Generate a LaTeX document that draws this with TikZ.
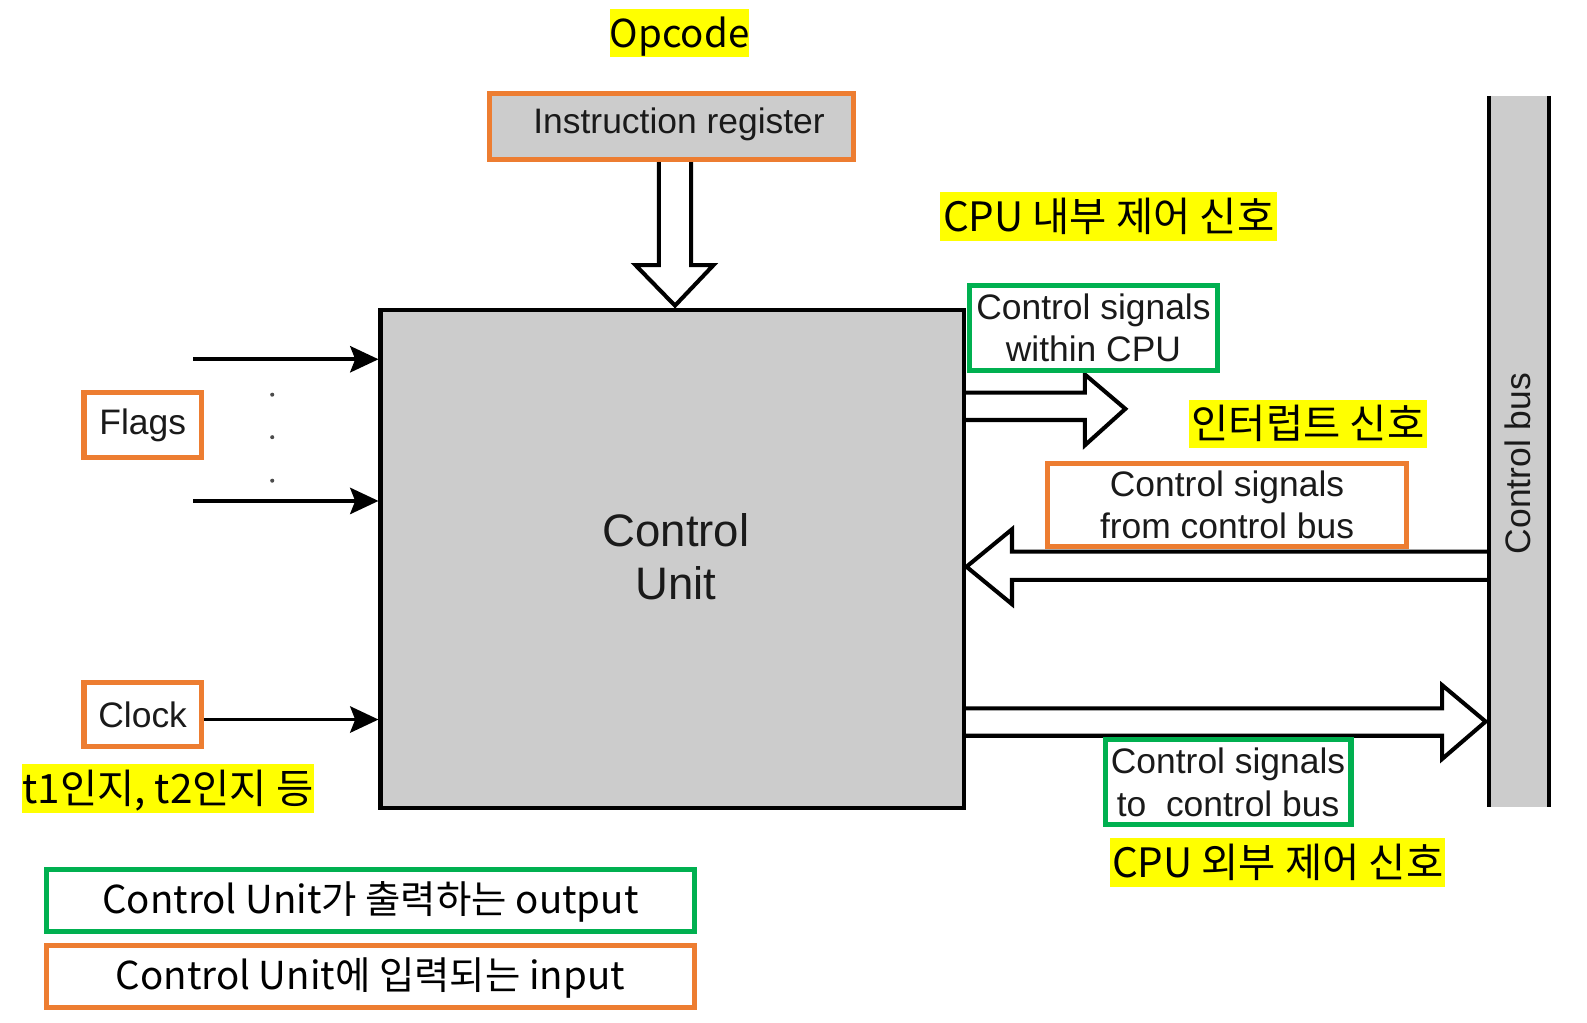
\documentclass[tikz,border=0pt]{standalone}
\usepackage{fontspec}
\setmainfont{Liberation Sans}
\newfontfamily\kr{Noto Sans CJK KR}
\usetikzlibrary{arrows.meta}
\definecolor{og}{HTML}{ED7D31}
\definecolor{gn}{HTML}{00B050}
\definecolor{gr}{HTML}{CCCCCC}
\definecolor{hl}{HTML}{FFFF00}
\definecolor{ink}{HTML}{1A1A1A}
\begin{document}
\begin{tikzpicture}[x=1pt,y=-1pt,
  hilite/.style={fill=hl, inner xsep=0pt, inner ysep=0pt, minimum height=48pt, text height=33pt, text depth=4pt, font=\kr\fontsize{40}{46}\selectfont},
  lbl/.style={font=\fontsize{35}{42}\selectfont, text=ink, align=center},
  obox/.style={draw=og, line width=5pt},
  gbox/.style={draw=gn, line width=5pt},
  fat/.style={draw=black, line width=4pt, fill=white, line join=miter},
  thin/.style={draw=black, line width=3.5pt, -{Stealth[length=28pt,width=26pt,inset=5pt]}},
  legend/.style={minimum width=640pt, minimum height=61pt, text height=30pt, text depth=4pt, font=\kr\fontsize{38}{44}\selectfont, inner sep=0pt}
]
\useasboundingbox (0,0) rectangle (1568.2,1009.9);
\fill[white] (0,0) rectangle (1568.2,1009.9);

% fat arrows (drawn first, boxes on top)
\draw[fat] (651,158) -- (651,262) -- (628,262) -- (667,302) -- (705,262) -- (683,262) -- (683,158);
\draw[fat] (953,388) -- (1072,388) -- (1072,370) -- (1112,404) -- (1072,440) -- (1072,415) -- (953,415);
\draw[fat] (1472,545) -- (1000,545) -- (1000,523) -- (955,560) -- (1000,597) -- (1000,573) -- (1472,573);
\draw[fat] (953,700) -- (1425,700) -- (1425,677) -- (1468,713) -- (1425,750) -- (1425,727) -- (953,727);

% control unit
\node[draw, line width=4pt, fill=gr, minimum width=577pt, minimum height=492pt, inner sep=0pt] (cu) at (664.5,552) {};
\node[font=\fontsize{45}{53}\selectfont, text=ink, align=center] (cut) at (668,550) {Control\\Unit};

% instruction register
\fill[black!50] (490,99) rectangle (845.5,160.5);
\node[obox, fill=gr, minimum width=359pt, minimum height=66pt, inner sep=0pt] (ir) at (663.5,125) {};
\node[lbl] (irt) at (671,123) {Instruction register};

% control bus
\node[fill=gr, minimum width=58pt, minimum height=702pt, inner sep=0pt] (bus) at (1501,446) {};
\draw[line width=4pt] (bus.north west) -- (bus.south west) (bus.north east) -- (bus.south east);
\node[lbl, rotate=90] (bust) at (1500,458) {Control bus};

% flags and clock
\node[obox, minimum width=116pt, minimum height=64pt, inner sep=0pt, lbl] (flags) at (141,420) {Flags};
\node[obox, minimum width=116pt, minimum height=64pt, inner sep=0pt, lbl] (clk) at (141,706) {Clock};
\coordinate (f1) at (191,355);
\coordinate (f2) at (191,495);
\coordinate (ck) at ([yshift=-5pt]clk.east);
\draw[thin] (f1) -- (f1 -| cu.west);
\draw[thin] (f2) -- (f2 -| cu.west);
\draw[thin] (ck) -- (ck -| cu.west);
\foreach \yy in {390,432,475} \fill[black!70] (269,\yy) circle (2pt);

% signal labels
\node[gbox, fill=white, minimum width=245pt, minimum height=84pt, inner sep=0pt, lbl] (within) at (1080.5,324) {Control signals\\within CPU};
\node[obox, fill=white, minimum width=355pt, minimum height=82pt, inner sep=0pt, lbl] (from) at (1212.5,499) {Control signals\\from control bus};
\node[gbox, fill=white, minimum width=243pt, minimum height=84pt, inner sep=0pt, lbl] (to) at (1213.5,773) {Control signals\\to\ \ control bus};

% highlights
\node[hilite, minimum width=135pt, font=\kr\fontsize{38}{44}\selectfont] (opc) at (671.5,32.5) {Opcode};
\node[hilite, minimum width=333pt] (intc) at (1095.5,214) {CPU 내부 제어 신호};
\node[hilite, minimum width=235pt] (irq) at (1292.5,419) {인터럽트 신호};
\node[hilite, minimum width=331pt] (extc) at (1262.5,852.5) {CPU 외부 제어 신호};
\node[hilite, minimum width=286pt] (tt) at (166,779) {t1인지, t2인지 등};

% legend
\node[gbox, legend] (lg1) at (366,889.5) {Control Unit가 출력하는 output};
\node[obox, legend] (lg2) at (366,965) {Control Unit에 입력되는 input};
\end{tikzpicture}
\end{document}
